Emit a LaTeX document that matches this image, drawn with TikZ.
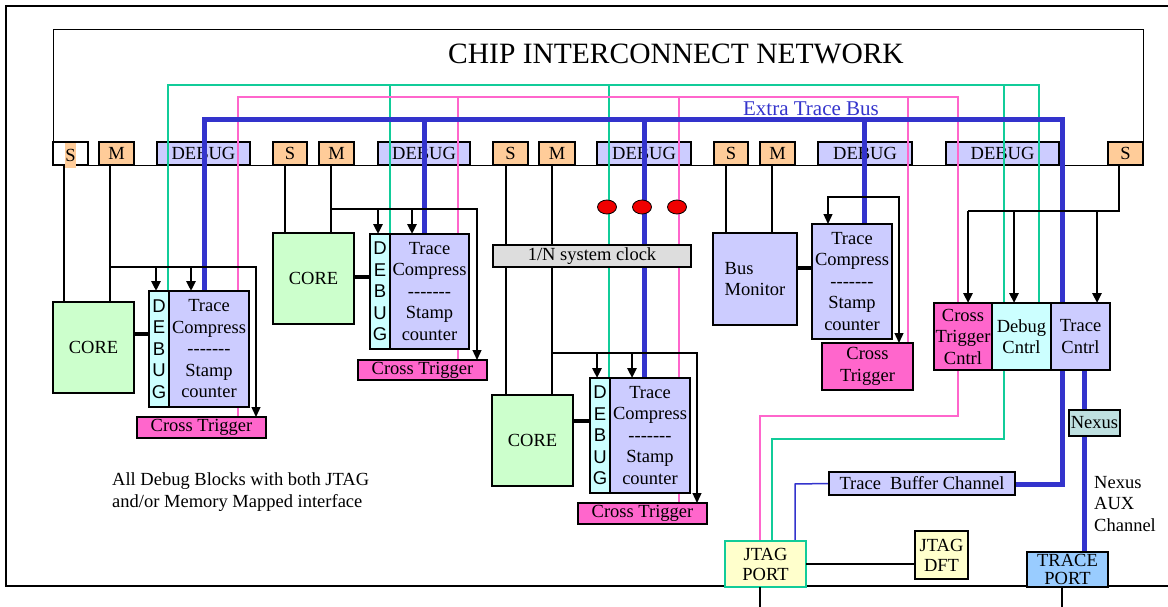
\documentclass[tikz,border=0pt]{standalone}
\usepackage{fontspec}
\setmainfont{Liberation Serif}
\newfontfamily\arialfam{Liberation Sans}
\usetikzlibrary{arrows.meta,shapes.geometric}

\definecolor{cOrange}{HTML}{FFCC99}
\definecolor{cLav}{HTML}{CCCCFF}
\definecolor{cCyan}{HTML}{CCFFFF}
\definecolor{cGreen}{HTML}{CCFFCC}
\definecolor{cPink}{HTML}{FF66CC}
\definecolor{cGray}{HTML}{DDDDDD}
\definecolor{cNexus}{HTML}{BFE0E0}
\definecolor{cSky}{HTML}{99CCFF}
\definecolor{cCream}{HTML}{FFFFCC}
\definecolor{cTeal}{HTML}{11CC99}
\definecolor{cRose}{HTML}{FF66CC}
\definecolor{cBlue}{HTML}{3333CC}
\definecolor{cRed}{HTML}{F00000}

\newcommand\txtsz{\fontsize{18.5}{21.5}\selectfont}
\newcommand\hyphrow{-\kern0pt-\kern0pt-\kern0pt-\kern0pt-\kern0pt-\kern0pt-}

\pgfdeclarelayer{pads}
\pgfdeclarelayer{lines}
\pgfsetlayers{pads,lines,main}

\tikzset{
  box/.style={draw=black, line width=1.6pt, inner sep=0pt, outer sep=0pt,
              align=center, anchor=north west, font=\txtsz},
  pad/.style={box, fill=cOrange, minimum height=23},
  dbgpad/.style={box, fill=cLav, minimum height=23},
  corebox/.style={box, fill=cGreen, minimum width=81, minimum height=91},
  dstrip/.style={box, fill=cCyan, minimum width=20, font=\arialfam\txtsz},
  tcbox/.style={box, fill=cLav},
  ctbox/.style={box, fill=cPink},
  redspot/.style={ellipse, draw=black, line width=0.8pt, fill=cRed,
                  minimum width=19, minimum height=14, inner sep=0pt},
  lbl/.style={inner sep=0pt, font=\txtsz, align=left},
  frame/.style={draw=black, line width=1.5pt},
  wire/.style={draw=black, line width=1.3pt},
  tip/.style={-{Triangle[length=10pt,width=9pt]}},
  fatarrow/.style={draw=black, line width=2.6pt, tip},
  wirearrow/.style={wire, tip},
  link/.style={draw=black, line width=4.5pt},
  gline/.style={draw=cTeal, line width=1.5pt},
  pline/.style={draw=cRose, line width=1.5pt},
  bline/.style={draw=cBlue, line width=5pt},
  tbline/.style={draw=cBlue, line width=1.5pt},
}

\begin{document}
\begin{tikzpicture}[x=1pt, y=-1pt, line join=miter]
\useasboundingbox (0,0) rectangle (1168,607);

% chip boundary, open to the right
\draw[frame] (1168,6) -- (6,6) -- (6,586) -- (1168,586);

\begin{pgfonlayer}{pads}
% interconnect network block
\node[draw=black, line width=1.3pt, inner sep=0pt, anchor=north west,
      minimum width=1090, minimum height=136] (icn) at (53,29) {};
\node[inner sep=0pt, anchor=base, font=\fontsize{29.5}{34}\selectfont]
      (title) at (676,64) {CHIP INTERCONNECT NETWORK};

% slave / master / debug ports on the bus
\node[box, fill=white, minimum width=35, minimum height=23] (s0) at (53,142) {};
\node[fill=cOrange, inner sep=0pt, minimum width=11, minimum height=25,
      anchor=north, font=\txtsz] (s0l) at (70.5,143) {S};
\node[pad, minimum width=35] (m0) at (99,142) {M};
\node[dbgpad, minimum width=93] (d0) at (157,142) {DEBUG};
\node[pad, minimum width=34] (s1) at (273,142) {S};
\node[pad, minimum width=35] (m1) at (319,142) {M};
\node[dbgpad, minimum width=92] (d1) at (378,142) {DEBUG};
\node[pad, minimum width=35] (s2) at (493,142) {S};
\node[pad, minimum width=36] (m2) at (539,142) {M};
\node[dbgpad, minimum width=94] (d2) at (597,142) {DEBUG};
\node[pad, minimum width=34] (s3) at (714,142) {S};
\node[pad, minimum width=35] (m3) at (760,142) {M};
\node[dbgpad, minimum width=94] (d3) at (818,142) {DEBUG};
\node[dbgpad, minimum width=113] (d4) at (946,142) {DEBUG};
\node[pad, minimum width=35] (s4) at (1108,142) {S};
\end{pgfonlayer}

% cores and bus monitor
\node[corebox] (core1) at (53,302) {CORE};
\node[corebox] (core2) at (273,233) {CORE};
\node[corebox] (core3) at (492,395) {CORE};
\node[box, fill=cLav, align=left, minimum width=84, minimum height=92] (busmon) at (713,233) {Bus\\Monitor};

% debug strips and trace compressors
\node[dstrip, minimum height=116] (dbg1) at (149,291) {D\\E\\B\\U\\G};
\node[tcbox, minimum width=80, minimum height=116] (tc1) at (169,291) {Trace\\Compress\\\hyphrow\\Stamp\\counter};
\node[dstrip, minimum height=115] (dbg2) at (370,234) {D\\E\\B\\U\\G};
\node[tcbox, minimum width=79, minimum height=115] (tc2) at (390,234) {Trace\\Compress\\\hyphrow\\Stamp\\counter};
\node[dstrip, minimum height=115] (dbg3) at (590,378) {D\\E\\B\\U\\G};
\node[tcbox, minimum width=80, minimum height=115] (tc3) at (610,378) {Trace\\Compress\\\hyphrow\\Stamp\\counter};
\node[tcbox, minimum width=80, minimum height=115] (tc4) at (812,224) {Trace\\Compress\\\hyphrow\\Stamp\\counter};

% cross triggers
\node[ctbox, minimum width=129, minimum height=21] (ct1) at (137,417) {Cross Trigger};
\node[ctbox, minimum width=129, minimum height=20] (ct2) at (358,360) {Cross Trigger};
\node[ctbox, minimum width=129, minimum height=21] (ct3) at (578,503) {Cross Trigger};
\node[ctbox, minimum width=91, minimum height=47] (ct4) at (822,343) {Cross\\Trigger};

% central controllers
\node[ctbox, minimum width=58, minimum height=67] (ctc) at (934,303) {Cross\\Trigger\\Cntrl};
\node[box, fill=cCyan, minimum width=59, minimum height=67] (dcn) at (992,303) {Debug\\Cntrl};
\node[box, fill=cLav, minimum width=59, minimum height=67] (trc) at (1051,303) {Trace\\Cntrl};

% trace / JTAG output side
\node[box, fill=cNexus, line width=2.4pt, minimum width=51, minimum height=26] (nexus) at (1069,410) {Nexus};
\node[box, fill=cLav, minimum width=186, minimum height=23] (tbc) at (829,472) {Trace\ \ Buffer Channel};
\node[box, fill=cCream, draw=cTeal, font=\fontsize{18.5}{20}\selectfont,
      minimum width=81, minimum height=46] (jtag) at (725,541) {JTAG\\PORT};
\node[box, fill=cCream, font=\fontsize{18.5}{20}\selectfont,
      minimum width=53, minimum height=48] (jdft) at (915,531) {JTAG\\DFT};
\node[box, fill=cSky, font=\fontsize{18.5}{18.5}\selectfont,
      minimum width=81, minimum height=35] (tport) at (1027,552) {TRACE\\PORT};
\node[box, fill=cGray, line width=1.3pt, minimum width=198, minimum height=22] (clock) at (493,245) {1/N system clock};

\node[redspot] (rs1) at (607,207) {};
\node[redspot] (rs2) at (642,207) {};
\node[redspot] (rs3) at (677,207) {};

\begin{pgfonlayer}{lines}
% bus taps from the ports
\foreach \n/\x/\t in {s0/64/core1, m0/110/core1, s1/285/core2, m1/331/core2,
                      s2/506/core3, m2/552/core3, s3/726/busmon, m3/772/busmon}{
  \coordinate (tap-\n) at (\x,165);
  \draw[wire] (tap-\n) -- (tap-\n |- \t.north);
}

% cross-trigger network (green)
\coordinate (g0) at (168,85);  \coordinate (g1) at (390,85);
\coordinate (g2) at (609,85);  \coordinate (g3) at (1004,85);
\coordinate (g4) at (1039,85); \coordinate (g5) at (1004,439);
\coordinate (g6) at (772,439);
\draw[gline] (g0 |- tc1.north) -- (g0) -- (g4) -- (g4 |- dcn.north);
\draw[gline] (g1) -- (g1 |- tc2.north);
\draw[gline] (g2) -- (g2 |- tc3.north);
\draw[gline] (g3) -- (g5) -- (g6) -- (g6 |- jtag.north);

% cross-trigger network (pink)
\coordinate (p0) at (238,97);  \coordinate (p1) at (458,97);
\coordinate (p2) at (679,97);  \coordinate (p3) at (908,97);
\coordinate (p4) at (958,97);  \coordinate (p5) at (958,416);
\coordinate (p6) at (760,416);
\draw[pline] (p0 |- ct1.north) -- (p0) -- (p4) -- (p5) -- (p6) -- (p6 |- jtag.north);
\draw[pline] (p1) -- (p1 |- ct2.north);
\draw[pline] (p2) -- (p2 |- ct3.north);
\draw[pline] (p3) -- (p3 |- ct4.north);

% extra trace bus (blue)
\coordinate (q0) at (204,120);  \coordinate (q1) at (424,120);
\coordinate (q2) at (644,120);  \coordinate (q3) at (864,120);
\coordinate (q4) at (1062,120); \coordinate (q5) at (1062,484);
\draw[bline] (q0 |- tc1.north) -- (q0) -- (q4) -- (q5) -- (q5 -| tbc.east);
\draw[bline] (q1) -- (q1 |- tc2.north);
\draw[bline] (q2) -- (q2 |- tc3.north);
\draw[bline] (q3) -- (q3 |- tc4.north);
\coordinate (nx) at (1084,400);
\draw[bline] (nx |- trc.south) -- (nx |- nexus.north);
\draw[bline] (nx |- nexus.south) -- (nx |- tport.north);
\coordinate (tb1) at (795,484);
\draw[tbline] (tbc.west) -- (tb1) -- (tb1 |- jtag.north);
\end{pgfonlayer}

% core to debug strip links
\coordinate (k1) at (134,334); \draw[link] (k1) -- (k1 -| dbg1.west);
\coordinate (k2) at (354,277); \draw[link] (k2) -- (k2 -| dbg2.west);
\coordinate (k3) at (573,421); \draw[link] (k3) -- (k3 -| dbg3.west);
\coordinate (k4) at (797,268); \draw[link] (k4) -- (k4 -| tc4.west);

% control bars feeding debug, trace and cross-trigger blocks
\coordinate (b1s) at (110,267); \coordinate (b1e) at (256,267);
\coordinate (b1a) at (156,267); \coordinate (b1b) at (191,267);
\coordinate (b2s) at (331,209); \coordinate (b2e) at (477,209);
\coordinate (b2a) at (378,209); \coordinate (b2b) at (412,209);
\coordinate (b3s) at (552,353); \coordinate (b3e) at (697,353);
\coordinate (b3a) at (597,353); \coordinate (b3b) at (632,353);
\coordinate (b4s) at (828,197); \coordinate (b4e) at (899,197);
\draw[wirearrow] (b1s) -- (b1e) -- (b1e |- ct1.north);
\draw[fatarrow] (b1a) -- (b1a |- dbg1.north);
\draw[fatarrow] (b1b) -- (b1b |- tc1.north);
\draw[wirearrow] (b2s) -- (b2e) -- (b2e |- ct2.north);
\draw[fatarrow] (b2a) -- (b2a |- dbg2.north);
\draw[fatarrow] (b2b) -- (b2b |- tc2.north);
\draw[wirearrow] (b3s) -- (b3e) -- (b3e |- ct3.north);
\draw[fatarrow] (b3a) -- (b3a |- dbg3.north);
\draw[fatarrow] (b3b) -- (b3b |- tc3.north);
\draw[wire, {Triangle[length=10pt,width=9pt]}-{Triangle[length=10pt,width=9pt]}]
      (b4s |- tc4.north) -- (b4s) -- (b4e) -- (b4e |- ct4.north);

% right-hand slave port fanning out to the controllers
\coordinate (tap-s4) at (1119,165);
\coordinate (ra1) at (968,211);
\coordinate (ra2) at (1014,211);
\coordinate (ra3) at (1097,211);
\draw[wire] (tap-s4) |- (ra1);
\draw[fatarrow, line width=2.8pt] (ra1) -- (ra1 |- ctc.north);
\draw[fatarrow, line width=2.8pt] (ra2) -- (ra2 |- dcn.north);
\draw[fatarrow, line width=2.8pt] (ra3) -- (ra3 |- trc.north);

% JTAG links and pins leaving the chip
\draw[wire] (jtag.east) -- (jtag.east -| jdft.west);
\coordinate (jpin) at (760,607);
\coordinate (tpin) at (1062,607);
\draw[wire] (jpin |- jtag.south) -- (jpin);
\draw[wire] (tpin |- tport.south) -- (tpin);

% labels
\node[lbl, anchor=base, text=cBlue, font=\fontsize{21}{24}\selectfont] (xtb) at (811,116) {Extra Trace Bus};
\node[lbl, anchor=west] (note) at (112,492) {All Debug Blocks with both JTAG\\and/or Memory Mapped interface};
\node[lbl, anchor=west] (aux) at (1094,504) {Nexus\\AUX\\Channel};
\end{tikzpicture}
\end{document}
